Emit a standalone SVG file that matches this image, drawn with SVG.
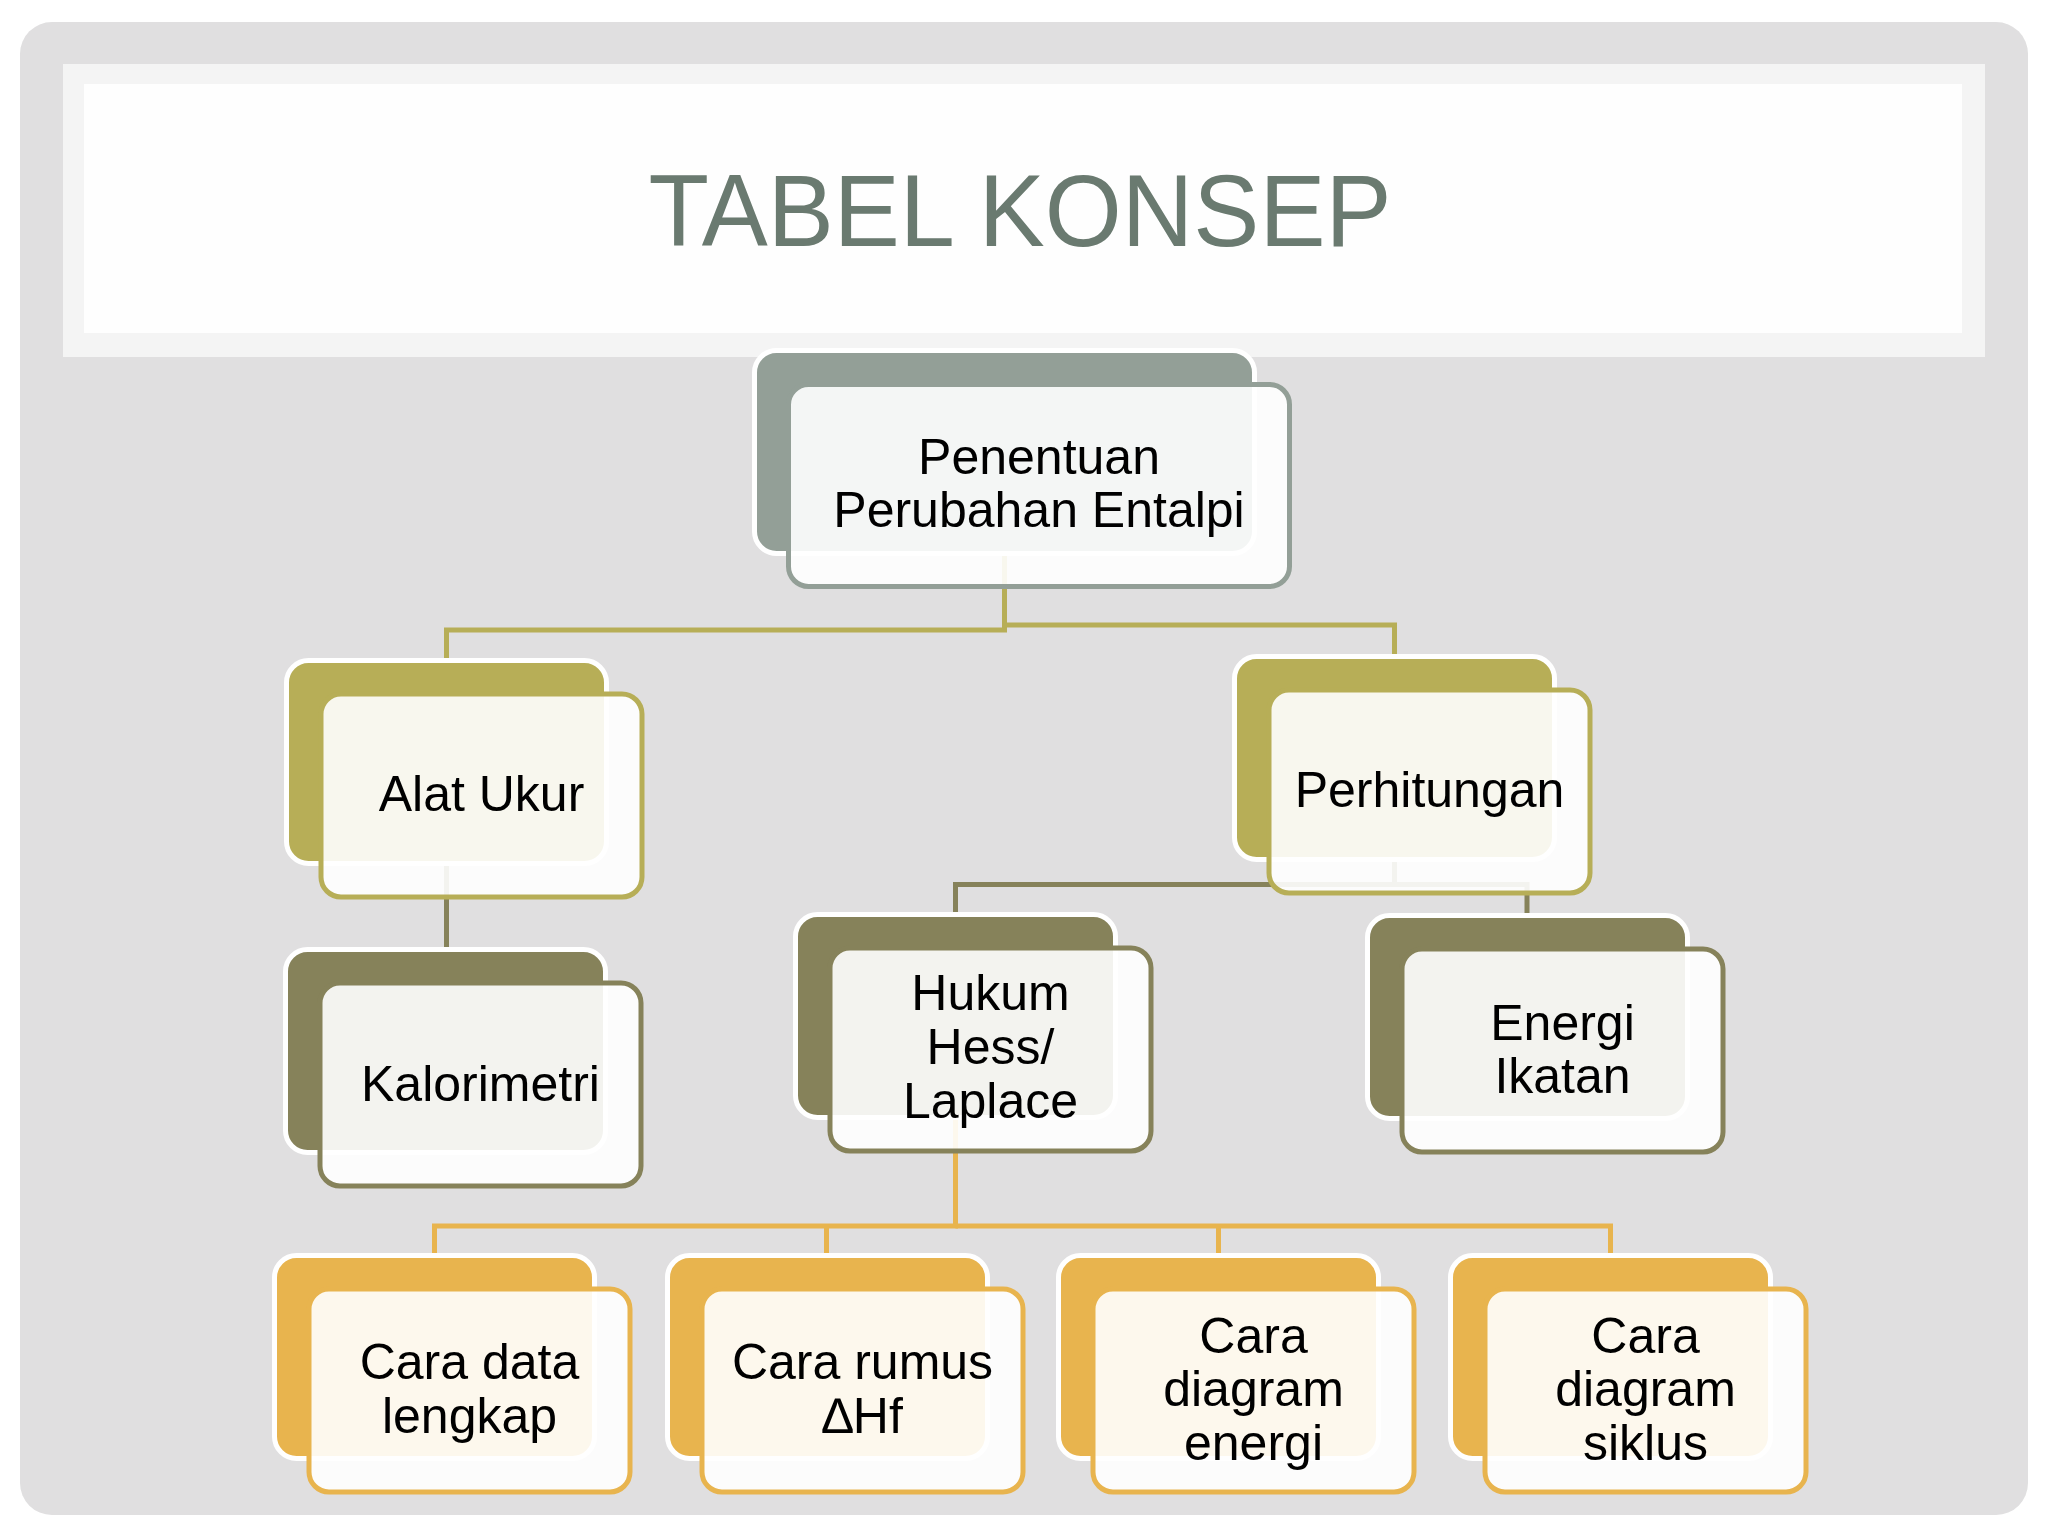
<svg xmlns="http://www.w3.org/2000/svg" width="2048" height="1536" viewBox="0 0 2048 1536">
<style>
.bk{stroke:#fff;stroke-width:5}
.fr{fill:#fff;fill-opacity:0.9;stroke-width:5}
.t{font-family:"Liberation Sans",Arial,sans-serif;font-size:50px;fill:#000;text-anchor:middle}
.c1{fill:#939f97}.s1{stroke:#939f97}
.c2{fill:#b7ae57}.s2{stroke:#b7ae57}
.c3{fill:#86825a}.s3{stroke:#86825a}
.c4{fill:#e8b44e}.s4{stroke:#e8b44e}
.ln{fill:none;stroke-width:5}
</style>
<rect x="0" y="0" width="2048" height="1536" fill="#ffffff"/>
<rect x="20" y="22" width="2008" height="1493" rx="32" fill="#e0dfe0"/>
<rect x="63" y="64" width="1922" height="293" fill="#f4f4f4"/>
<rect x="84" y="84" width="1878" height="249" fill="#fefefe"/>
<text x="1020" y="246" font-family="'Liberation Sans',Arial,sans-serif" font-size="102" fill="#6a7a70" text-anchor="middle" textLength="743" lengthAdjust="spacingAndGlyphs">TABEL KONSEP</text>

<g id="connectors">
  <path class="ln" stroke="#b7ae57" d="M1004.5,450 V630 H446.5 V665"/>
  <path class="ln" stroke="#b7ae57" d="M1004.5,600 V625 H1394.5 V661"/>
  <path class="ln" stroke="#86825a" d="M446.5,760 V954"/>
  <path class="ln" stroke="#86825a" d="M1394.5,757 V884.5 H955.5 V919"/>
  <path class="ln" stroke="#86825a" d="M1394.5,884.5 H1527 V920"/>
  <path class="ln" stroke="#e8b44e" d="M955.5,1015 V1226 H434.5 V1260"/>
  <path class="ln" stroke="#e8b44e" d="M955.5,1226 H1610.5 V1260"/>
  <path class="ln" stroke="#e8b44e" d="M826.5,1226 V1260"/>
  <path class="ln" stroke="#e8b44e" d="M1218.5,1226 V1260"/>
</g>

<g id="node-root">
  <rect class="bk c1" x="754.5" y="350.5" width="500" height="203" rx="22"/>
  <rect class="fr s1" x="788.5" y="384.5" width="501" height="202" rx="20"/>
  <text class="t" x="1039" y="474">Penentuan</text>
  <text class="t" x="1039" y="527">Perubahan Entalpi</text>
</g>

<g id="node-alat-ukur">
  <rect class="bk c2" x="286.5" y="660.5" width="320" height="203" rx="22"/>
  <rect class="fr s2" x="321" y="694" width="321" height="203" rx="20"/>
  <text class="t" x="481.5" y="811">Alat Ukur</text>
</g>

<g id="node-kalorimetri">
  <rect class="bk c3" x="285.5" y="949.5" width="320" height="203" rx="22"/>
  <rect class="fr s3" x="320" y="983" width="321" height="203" rx="20"/>
  <text class="t" x="480.5" y="1101">Kalorimetri</text>
</g>

<g id="node-perhitungan">
  <rect class="bk c2" x="1234.5" y="656.5" width="320" height="203" rx="22"/>
  <rect class="fr s2" x="1269" y="690" width="321" height="203" rx="20"/>
  <text class="t" x="1429.5" y="807">Perhitungan</text>
</g>

<g id="node-hukum-hess">
  <rect class="bk c3" x="795.5" y="914.5" width="320" height="203" rx="22"/>
  <rect class="fr s3" x="830" y="948" width="321" height="203" rx="20"/>
  <text class="t" x="990.5" y="1010">Hukum</text>
  <text class="t" x="990.5" y="1064">Hess/</text>
  <text class="t" x="990.5" y="1118">Laplace</text>
</g>

<g id="node-energi-ikatan">
  <rect class="bk c3" x="1367.5" y="915.5" width="320" height="203" rx="22"/>
  <rect class="fr s3" x="1402" y="949" width="321" height="203" rx="20"/>
  <text class="t" x="1562.5" y="1039.5">Energi</text>
  <text class="t" x="1562.5" y="1092.5">Ikatan</text>
</g>

<g id="node-cara-data">
  <rect class="bk c4" x="274.5" y="1255.5" width="320" height="203" rx="22"/>
  <rect class="fr s4" x="309" y="1289" width="321" height="203" rx="20"/>
  <text class="t" x="469.5" y="1379">Cara data</text>
  <text class="t" x="469.5" y="1433">lengkap</text>
</g>

<g id="node-cara-rumus">
  <rect class="bk c4" x="667.5" y="1255.5" width="320" height="203" rx="22"/>
  <rect class="fr s4" x="702" y="1289" width="321" height="203" rx="20"/>
  <text class="t" x="862.5" y="1379">Cara rumus</text>
  <text class="t" x="862.5" y="1433">∆Hf</text>
</g>

<g id="node-cara-diagram-energi">
  <rect class="bk c4" x="1058.5" y="1255.5" width="320" height="203" rx="22"/>
  <rect class="fr s4" x="1093" y="1289" width="321" height="203" rx="20"/>
  <text class="t" x="1253.5" y="1352.5">Cara</text>
  <text class="t" x="1253.5" y="1406">diagram</text>
  <text class="t" x="1253.5" y="1459.5">energi</text>
</g>

<g id="node-cara-diagram-siklus">
  <rect class="bk c4" x="1450.5" y="1255.5" width="320" height="203" rx="22"/>
  <rect class="fr s4" x="1485" y="1289" width="321" height="203" rx="20"/>
  <text class="t" x="1645.5" y="1352.5">Cara</text>
  <text class="t" x="1645.5" y="1406">diagram</text>
  <text class="t" x="1645.5" y="1459.5">siklus</text>
</g>
</svg>
